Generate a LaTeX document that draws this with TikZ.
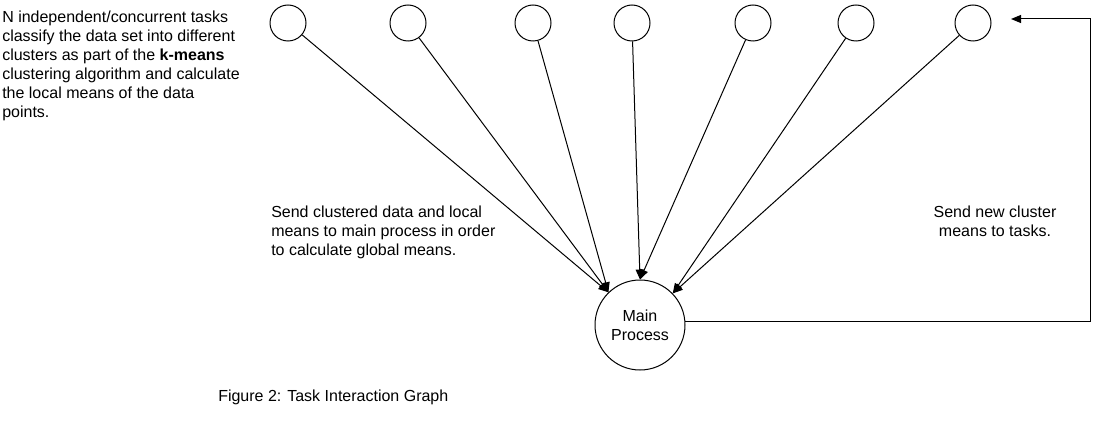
\documentclass[tikz,border=0pt]{standalone}
\usepackage{fontspec}
\setmainfont{Liberation Sans}
\usetikzlibrary{arrows.meta}
\tikzset{
  task/.style={draw, circle, line width=0.75pt, minimum size=27pt, inner sep=0pt},
  mainproc/.style={draw, circle, line width=0.75pt, minimum size=67.5pt, inner sep=0pt, align=center, font=\fontsize{12}{14.25}\selectfont},
  msg/.style={line width=0.75pt, -{Triangle[length=7.5pt,width=6pt]}},
  lbl/.style={inner sep=0pt, font=\fontsize{12}{14.25}\selectfont}
}

\begin{document}
\begin{tikzpicture}[x=0.75pt, y=-0.75pt]
  %%%%% START %%%%%
  \useasboundingbox (0,0) rectangle (1099,431);

  % tasks
  \node[task] (t1) at (288,23) {};
  \node[task] (t2) at (408,23) {};
  \node[task] (t3) at (533,23) {};
  \node[task] (t4) at (632,23) {};
  \node[task] (t5) at (753,23) {};
  \node[task] (t6) at (856,23) {};
  \node[task] (t7) at (973,23) {};

  \node[mainproc] (main) at (640,325) {Main\\Process};

  % local means to main process
  \draw[msg] (t1) -- (main.134);
  \draw[msg] (t2) -- (main.134);
  \draw[msg] (t3) -- (main.134);
  \draw[msg] (t4) -- (main.90);
  \draw[msg] (t5) -- (main.90);
  \draw[msg] (t6) -- (main.44);
  \draw[msg] (t7) -- (main.44);

  % new means back to tasks
  \coordinate (turn) at (1090,19);
  \coordinate (back) at (1011,19);
  \draw[msg] (main.5) -| (turn) -- (back);

  % labels
  \node[lbl, anchor=north west, align=left] (desc) at (2,11)
    {N independent/concurrent tasks\\classify the data set into different\\clusters as part of the \textbf{k-means}\\clustering algorithm and calculate\\the local means of the data\\points.};
  \node[lbl, anchor=north west, align=left] (sendup) at (271,206)
    {Send clustered data and local\\means to main process in order\\to calculate global means.};
  \node[lbl, align=center] (senddown) at (995,221)
    {Send new cluster\\means to tasks.};
  \node[lbl, anchor=west] (caption) at (218,397) {Figure 2: Task Interaction Graph};
  %%%%% END %%%%%
\end{tikzpicture}
\end{document}
